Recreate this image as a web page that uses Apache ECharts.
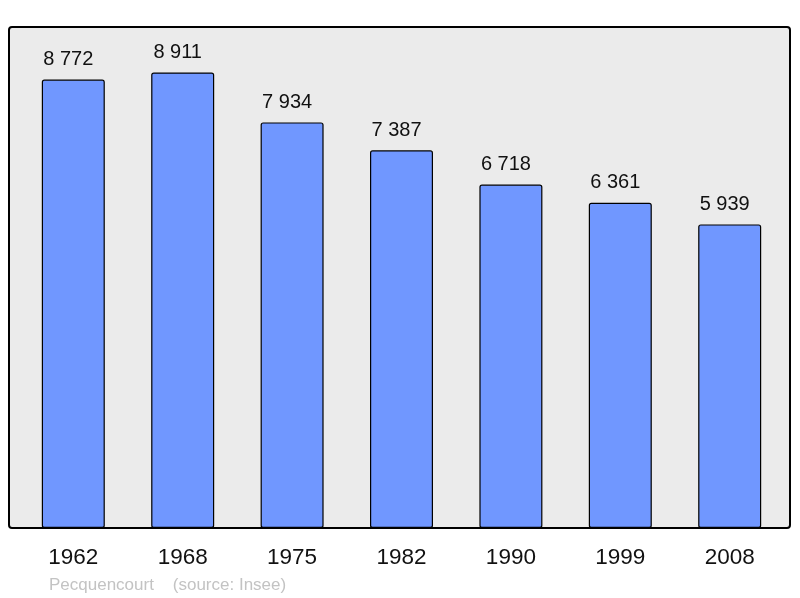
<!DOCTYPE html>
<html>
<head>
<meta charset="utf-8">
<script src="https://cdn.jsdelivr.net/npm/echarts@6/dist/echarts.min.js"></script>
<style>html,body{margin:0;padding:0;background:#fff}#c{width:800px;height:598px}</style>
</head>
<body>
<div id="c"></div>
<script>
const years = ['1962','1968','1975','1982','1990','1999','2008'];
const population = [8772, 8911, 7934, 7387, 6718, 6361, 5939];
const footnote = 'Pecquencourt    (source: Insee)';

function fmt(v){ return String(v).replace(/\B(?=(\d{3})+(?!\d))/g, ' '); }

const chart = echarts.init(document.getElementById('c'), null, {renderer:'canvas'});
chart.setOption({
  animation: false,
  backgroundColor: '#ffffff',
  textStyle: { fontFamily: 'Liberation Sans, Arial, sans-serif' },
  grid: { left: 18.6, right: 15.6, top: 27, bottom: 70, containLabel: false },
  graphic: [
    { type: 'rect', z: -10, shape: { x: 9, y: 27, width: 781, height: 501, r: 3 },
      style: { fill: '#ebebeb', stroke: '#000', lineWidth: 2 } },
    { type: 'text', left: 49, top: 576.5, style: { text: footnote, fill: '#c3c3c3', fontSize: 17, fontFamily: 'Liberation Sans, Arial, sans-serif' } }
  ],
  xAxis: {
    type: 'category', data: years,
    axisLine: { show: false }, axisTick: { show: false },
    axisLabel: { fontSize: 22.5, color: '#111', margin: 18 }
  },
  yAxis: { type: 'value', min: 0, max: 9800, show: false, splitLine: { show: false } },
  series: [{
    type: 'bar', data: population, barWidth: 63,
    itemStyle: { color: '#7097ff', borderColor: '#000', borderWidth: 1.2, borderRadius: 2 },
    label: { show: true, position: 'top', distance: 10, offset: [-5, 0], fontSize: 20, color: '#111',
      formatter: p => fmt(p.value) }
  }]
});
</script>
</body>
</html>
